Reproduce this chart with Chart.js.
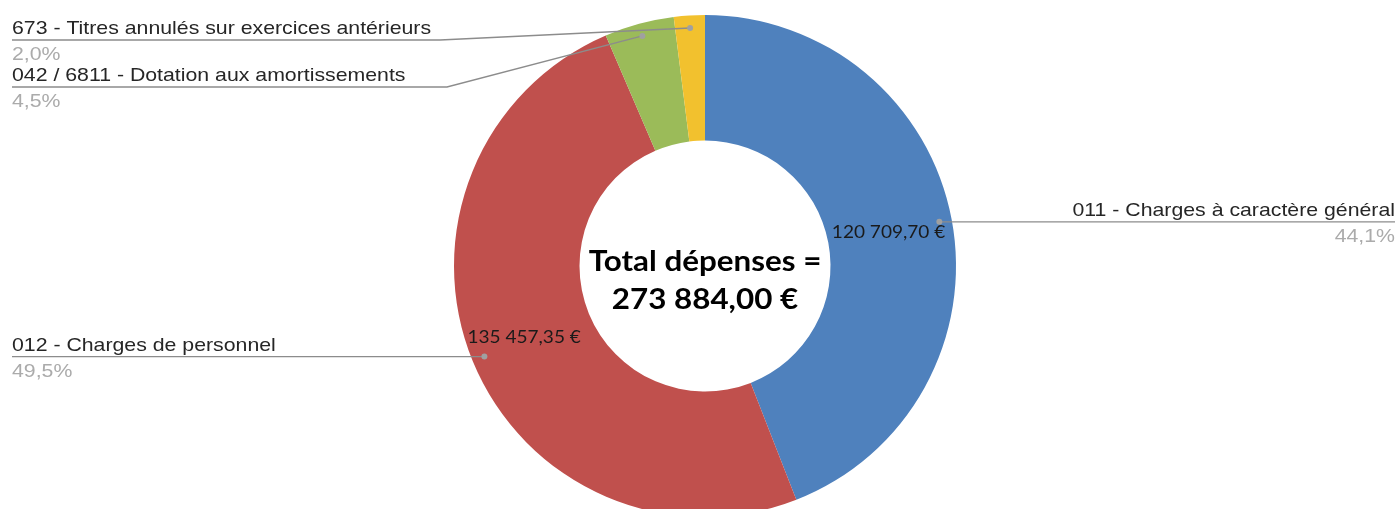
<!DOCTYPE html>
<html lang="fr">
<head>
<meta charset="utf-8">
<title>Dépenses</title>
<script src="https://cdn.jsdelivr.net/npm/chart.js@4/dist/chart.umd.min.js"></script>
<style>
  html, body { margin: 0; padding: 0; background: #fff; overflow: hidden; }
  #chart { display: block; }
</style>
</head>
<body>
<canvas id="chart" width="1398" height="520"></canvas>
<script>
// chapters of the budget, clockwise from 12 o'clock
const categories = [
  '011 - Charges à caractère général',
  '012 - Charges de personnel',
  '042 / 6811 - Dotation aux amortissements',
  '673 - Titres annulés sur exercices antérieurs'
];
const amounts = [120709.70, 135457.35, 12266.95, 5450.00];
const showAmount = [true, true, false, false];
const colors = ['#4f81bd', '#c0504d', '#9bbb59', '#f2c12e'];
const totalTitle = 'Total dépenses =';

const total = amounts.reduce((a, b) => a + b, 0);

function euro(v) {
  const [int, dec] = v.toFixed(2).split('.');
  return int.replace(/\B(?=(\d{3})+(?!\d))/g, ' ') + ',' + dec + ' €';
}
function pct(v) {
  return (v / total * 100).toFixed(1).replace('.', ',') + '%';
}

// text is drawn slightly wide
const TEXT_SX = 1.12;
function wideText(ctx, txt, x, y) {
  ctx.save();
  ctx.translate(x, y);
  ctx.scale(TEXT_SX, 1);
  ctx.fillText(txt, 0, 0);
  ctx.restore();
}

// where each callout goes: side of the chart, and optional fixed line height + elbow
const callouts = [
  { side: 'right' },
  { side: 'left' },
  { side: 'left', lineY: 87, elbowX: 447 },
  { side: 'left', lineY: 40, elbowX: 440 }
];

const calloutPlugin = {
  id: 'callouts',
  afterDraw(chart) {
    const ctx = chart.ctx;
    const meta = chart.getDatasetMeta(0);
    const W = chart.width;

    meta.data.forEach((arc, i) => {
      const mid = (arc.startAngle + arc.endAngle) / 2;
      const r = arc.innerRadius + (arc.outerRadius - arc.innerRadius) * 0.9;
      const dx = arc.x + Math.cos(mid) * r;
      const dy = arc.y + Math.sin(mid) * r;
      const c = callouts[i];

      // leader line
      ctx.save();
      ctx.strokeStyle = '#8c8c8c';
      ctx.lineWidth = 1.3;
      ctx.beginPath();
      const lineY = c.lineY !== undefined ? c.lineY : dy;
      if (c.side === 'right') {
        ctx.moveTo(dx, dy);
        ctx.lineTo(W - 3, dy);
      } else {
        ctx.moveTo(12, lineY);
        if (c.elbowX) ctx.lineTo(c.elbowX, lineY);
        ctx.lineTo(dx, dy);
      }
      ctx.stroke();

      // dot on the slice
      ctx.fillStyle = '#a0a0a0';
      ctx.beginPath();
      ctx.arc(dx, dy, 3, 0, Math.PI * 2);
      ctx.fill();

      // category name and share
      ctx.font = '19px "Liberation Sans", Arial, sans-serif';
      ctx.textBaseline = 'alphabetic';
      const tx = c.side === 'right' ? W - 3 : 12;
      ctx.textAlign = c.side === 'right' ? 'right' : 'left';
      ctx.fillStyle = '#262626';
      wideText(ctx, categories[i], tx, lineY - 6);
      ctx.fillStyle = '#ababab';
      wideText(ctx, pct(amounts[i]), tx, lineY + 20);

      // amount inside the slice
      if (showAmount[i]) {
        ctx.font = '17px Lato, "Noto Sans", sans-serif';
        ctx.fillStyle = '#1a1a1a';
        ctx.textBaseline = 'middle';
        if (c.side === 'right') {
          ctx.textAlign = 'right';
          wideText(ctx, euro(amounts[i]), dx + 6, dy + 11);
        } else {
          ctx.textAlign = 'left';
          wideText(ctx, euro(amounts[i]), dx - 17, dy - 19);
        }
      }
      ctx.restore();
    });

    // total in the hole
    const a0 = meta.data[0];
    ctx.save();
    ctx.font = 'bold 28px Lato, "Noto Sans", sans-serif';
    ctx.fillStyle = '#000';
    ctx.textAlign = 'center';
    ctx.textBaseline = 'middle';
    wideText(ctx, totalTitle, a0.x, a0.y - 4);
    wideText(ctx, euro(total), a0.x, a0.y + 34);
    ctx.restore();
  }
};

new Chart(document.getElementById('chart'), {
  type: 'doughnut',
  data: {
    labels: categories,
    datasets: [{
      data: amounts,
      backgroundColor: colors,
      borderWidth: 0
    }]
  },
  options: {
    responsive: false,
    animation: false,
    cutout: '50%',
    layout: { padding: { left: 12, right: 0, top: 15, bottom: 3 } },
    plugins: {
      legend: { display: false },
      tooltip: { enabled: false }
    }
  },
  plugins: [calloutPlugin]
});
</script>
</body>
</html>
